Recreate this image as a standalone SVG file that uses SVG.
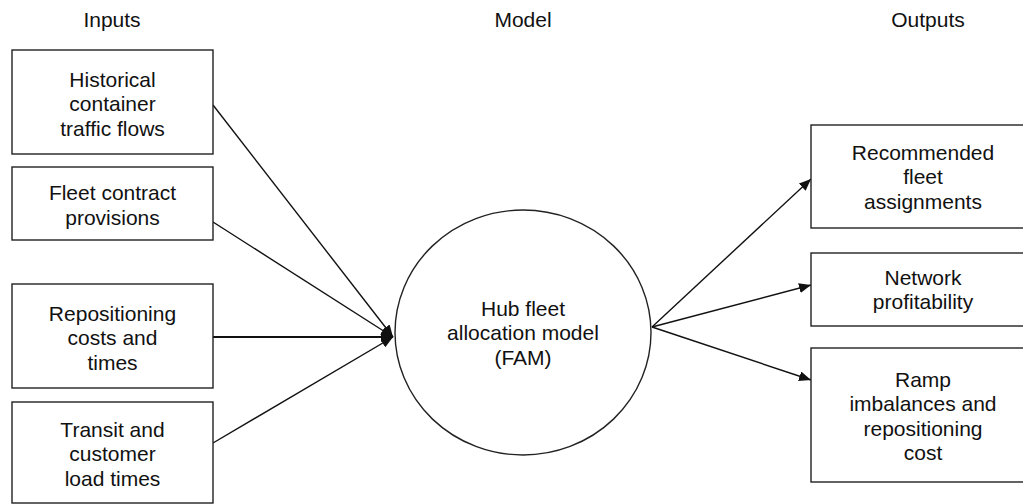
<svg xmlns="http://www.w3.org/2000/svg" width="1023" height="504" viewBox="0 0 1023 504">
<style>
.box{fill:#fff;stroke:#222;stroke-width:1.4}
.t{font-family:"Liberation Sans",Arial,sans-serif;font-size:21px;fill:#111;text-anchor:middle}
.c{fill:none;stroke:#111;stroke-width:1.4}
.ck{stroke-width:2.2}
</style>
<defs>
<marker id="ah" viewBox="0 0 12 10" refX="12" refY="5" markerWidth="12" markerHeight="10" markerUnits="userSpaceOnUse" orient="auto">
<path d="M0,0 L12,5 L0,10 Z" fill="#111"/>
</marker>
</defs>
<rect width="1023" height="504" fill="#fff"/>
<g id="headers">
<text class="t" x="112" y="27">Inputs</text>
<text class="t" x="523" y="27">Model</text>
<text class="t" x="928" y="27">Outputs</text>
</g>
<g id="connectors">
<line class="c" x1="213" y1="105" x2="393" y2="337" marker-end="url(#ah)"/>
<line class="c" x1="213" y1="222" x2="393" y2="337" marker-end="url(#ah)"/>
<line class="c ck" x1="213" y1="337" x2="393" y2="337" marker-end="url(#ah)"/>
<line class="c" x1="213" y1="443" x2="393" y2="337" marker-end="url(#ah)"/>
<line class="c" x1="652" y1="327" x2="811" y2="179" marker-end="url(#ah)"/>
<line class="c" x1="652" y1="327" x2="811" y2="285" marker-end="url(#ah)"/>
<line class="c" x1="652" y1="327" x2="811" y2="380" marker-end="url(#ah)"/>
</g>
<g id="in1">
<rect class="box" x="12" y="50" width="201" height="104"/>
<text class="t" x="112.5" y="86.5">Historical</text>
<text class="t" x="112.5" y="111">container</text>
<text class="t" x="112.5" y="135.5">traffic flows</text>
</g>
<g id="in2">
<rect class="box" x="12" y="167" width="201" height="73"/>
<text class="t" x="112.5" y="199.5">Fleet contract</text>
<text class="t" x="112.5" y="224.5">provisions</text>
</g>
<g id="in3">
<rect class="box" x="12" y="284" width="201" height="104"/>
<text class="t" x="112.5" y="320.5">Repositioning</text>
<text class="t" x="112.5" y="345">costs and</text>
<text class="t" x="112.5" y="369.5">times</text>
</g>
<g id="in4">
<rect class="box" x="12" y="402" width="201" height="101"/>
<text class="t" x="112.5" y="436.5">Transit and</text>
<text class="t" x="112.5" y="461">customer</text>
<text class="t" x="112.5" y="485.5">load times</text>
</g>
<g id="model">
<ellipse class="box" cx="523" cy="332.5" rx="128" ry="122.5"/>
<text class="t" x="523" y="315.5">Hub fleet</text>
<text class="t" x="523" y="340">allocation model</text>
<text class="t" x="523" y="364.5">(FAM)</text>
</g>
<g id="out1">
<rect class="box" x="811" y="125" width="224" height="103"/>
<text class="t" x="923" y="159.5">Recommended</text>
<text class="t" x="923" y="184">fleet</text>
<text class="t" x="923" y="208.5">assignments</text>
</g>
<g id="out2">
<rect class="box" x="811" y="253" width="224" height="73"/>
<text class="t" x="923" y="284.5">Network</text>
<text class="t" x="923" y="309">profitability</text>
</g>
<g id="out3">
<rect class="box" x="811" y="348" width="224" height="134"/>
<text class="t" x="923" y="386.5">Ramp</text>
<text class="t" x="923" y="411">imbalances and</text>
<text class="t" x="923" y="435.5">repositioning</text>
<text class="t" x="923" y="460">cost</text>
</g>
</svg>
